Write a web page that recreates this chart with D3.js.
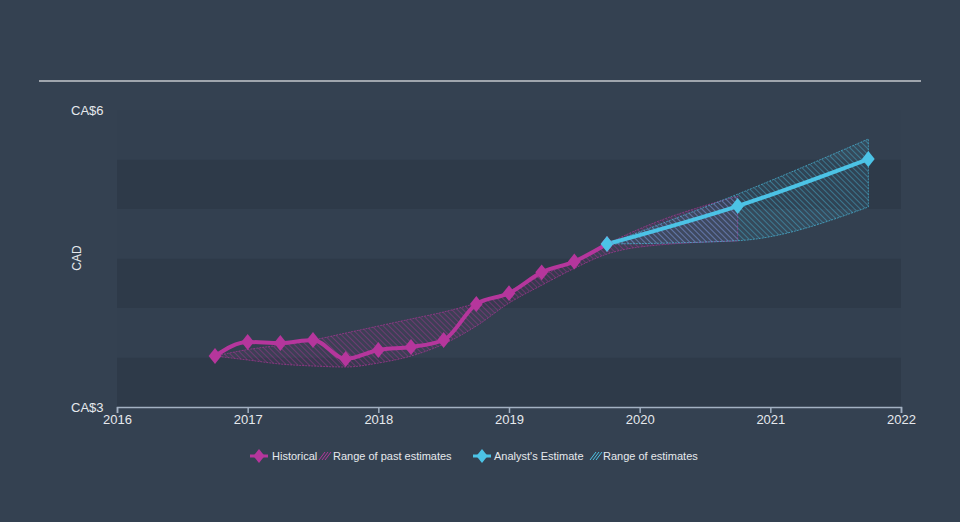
<!DOCTYPE html>
<html><head><meta charset="utf-8">
<script src="https://cdn.jsdelivr.net/npm/d3@7"></script>
<style>
html,body{margin:0;padding:0;background:#344151;}
svg{display:block;font-family:"Liberation Sans",Arial,sans-serif;}
</style></head>
<body><svg id="c" width="960" height="522"></svg>
<script>
// ---- data ----
const histDates = [2016.75,2017.0,2017.25,2017.5,2017.75,2018.0,2018.25,2018.5,2018.75,2019.0,2019.25,2019.5,2019.75];
const histValues = [3.515,3.657,3.646,3.677,3.485,3.576,3.606,3.677,4.04,4.15,4.36,4.47,4.646];
const pastRangeDates = [2016.75,2017.0,2017.25,2017.5,2017.75,2018.0,2018.25,2018.5,2018.75,2019.0,2019.25,2019.5,2019.75,2020.0,2020.75];
const pastRangeLow  = [3.515,3.475,3.434,3.414,3.404,3.444,3.515,3.636,3.818,4.05,4.23,4.40,4.545,4.616,4.677];
const pastRangeHigh = [3.515,3.58,3.626,3.677,3.747,3.818,3.889,3.96,4.05,4.17,4.33,4.47,4.646,4.80,5.13];
const estDates = [2019.75,2020.75,2021.75];
const estValues = [4.646,5.03,5.505];
const estLow  = [4.646,4.68,5.02];
const estHigh = [4.646,5.15,5.707];
const xTicks = [2016,2017,2018,2019,2020,2021,2022];
const yTickLabels = ["CA$3","CA$6"];
const yTickValues = [3,6];
const bandStarts = [3,4,5];

const MAG = "#b5369c", CYAN = "#4cc3e6";
const svg = d3.select("#c");
const x = d3.scaleLinear().domain([2016,2022]).range([117,901]);
const y = d3.scaleLinear().domain([3,6]).range([407,110]);

const defs = svg.append("defs");
function hatch(id, color){
  const p = defs.append("pattern").attr("id",id).attr("patternUnits","userSpaceOnUse")
    .attr("width",4).attr("height",4).attr("patternTransform","rotate(-45)");
  p.append("line").attr("x1",0).attr("y1",0).attr("x2",0).attr("y2",4)
    .attr("stroke",color).attr("stroke-width",1).attr("stroke-opacity",0.8);
}
hatch("hm", MAG); hatch("hc", CYAN);

// background bands
svg.append("g").selectAll("rect").data(bandStarts).join("rect")
  .attr("x",x(2016)).attr("width",x(2022)-x(2016))
  .attr("y",d=>y(d+0.5)).attr("height",d=>y(d)-y(d+0.5))
  .attr("fill","#2e3a49");
svg.append("g").selectAll("rect").data(bandStarts).join("rect")
  .attr("x",x(2016)).attr("width",x(2022)-x(2016))
  .attr("y",d=>y(d+1)).attr("height",d=>y(d+0.5)-y(d+1))
  .attr("fill","#334050");

// top rule
svg.append("line").attr("x1",39).attr("x2",921).attr("y1",81).attr("y2",81)
  .attr("stroke","#c3c7cc").attr("stroke-width",1.5);

// ranges
const area = d3.area().curve(d3.curveMonotoneX).x(d=>x(d[0])).y0(d=>y(d[1])).y1(d=>y(d[2]));
const pastData = pastRangeDates.map((d,i)=>[d,pastRangeLow[i],pastRangeHigh[i]]);
const estData = estDates.map((d,i)=>[d,estLow[i],estHigh[i]]);
function drawRange(data,color,pid){
  svg.append("path").datum(data).attr("d",area).attr("fill",`url(#${pid})`);
  svg.append("path").datum(data).attr("d",area).attr("fill",color).attr("fill-opacity",0.08)
    .attr("stroke",color).attr("stroke-width",0.8).attr("stroke-opacity",0.8).attr("stroke-dasharray","2,1");
}
drawRange(pastData,MAG,"hm");
drawRange(estData,CYAN,"hc");

// lines
const line = d3.line().curve(d3.curveMonotoneX).x(d=>x(d[0])).y(d=>y(d[1]));
const hist = histDates.map((d,i)=>[d,histValues[i]]);
const est = estDates.map((d,i)=>[d,estValues[i]]);
svg.append("path").datum(hist).attr("d",line).attr("fill","none").attr("stroke",MAG).attr("stroke-width",4);
svg.append("path").datum(est).attr("d",line).attr("fill","none").attr("stroke",CYAN).attr("stroke-width",4);
const diamond = d3.symbol().type(d3.symbolDiamond).size(90);
svg.append("g").selectAll("path").data(hist).join("path").attr("d",diamond)
  .attr("transform",d=>`translate(${x(d[0])},${y(d[1])}) scale(1.25,0.9)`).attr("fill",MAG);
svg.append("g").selectAll("path").data(est).join("path").attr("d",diamond)
  .attr("transform",d=>`translate(${x(d[0])},${y(d[1])}) scale(1.25,0.9)`).attr("fill",CYAN);

// x axis
const xa = svg.append("g").attr("transform",`translate(0,${y(3)})`)
  .call(d3.axisBottom(x).tickValues(xTicks).tickFormat(d3.format("d")).tickSize(6).tickPadding(2));
xa.select(".domain").attr("stroke","#a3b1c2").attr("stroke-width",1.5);
xa.selectAll(".tick line").attr("stroke","#a3b1c2").attr("stroke-width",1.5);
xa.selectAll("text").attr("fill","#e6e9ed").attr("font-size",13).attr("font-family","Liberation Sans, Arial, sans-serif");

// y labels
svg.append("g").selectAll("text").data(yTickValues).join("text")
  .attr("x",71).attr("y",d=>y(d)).attr("dy","0.35em")
  .attr("fill","#e6e9ed").attr("font-size",13).text((d,i)=>yTickLabels[i]);
svg.append("text").attr("transform","translate(81,258) rotate(-90)").attr("text-anchor","middle")
  .attr("fill","#e6e9ed").attr("font-size",12).text("CAD");

// legend
const lg = svg.append("g").attr("font-size",11).attr("fill","#e6e9ed");
function legMarker(cx,color){
  lg.append("line").attr("x1",cx-9).attr("x2",cx+9).attr("y1",456).attr("y2",456).attr("stroke",color).attr("stroke-width",3);
  lg.append("path").attr("d",diamond).attr("transform",`translate(${cx},456) scale(1.1,0.8)`).attr("fill",color);
}
function legHatch(cx,color){
  for(let k=-1;k<=1;k++){
    lg.append("line").attr("x1",cx-4+k*3).attr("y1",460).attr("x2",cx+2+k*3).attr("y2",452)
      .attr("stroke",color).attr("stroke-width",1);
  }
}
legMarker(259,MAG);
lg.append("text").attr("x",272).attr("y",460).text("Historical");
legHatch(326,MAG);
lg.append("text").attr("x",333).attr("y",460).text("Range of past estimates");
legMarker(482,CYAN);
lg.append("text").attr("x",494).attr("y",460).text("Analyst's Estimate");
legHatch(597,CYAN);
lg.append("text").attr("x",603).attr("y",460).text("Range of estimates");
</script></body></html>
